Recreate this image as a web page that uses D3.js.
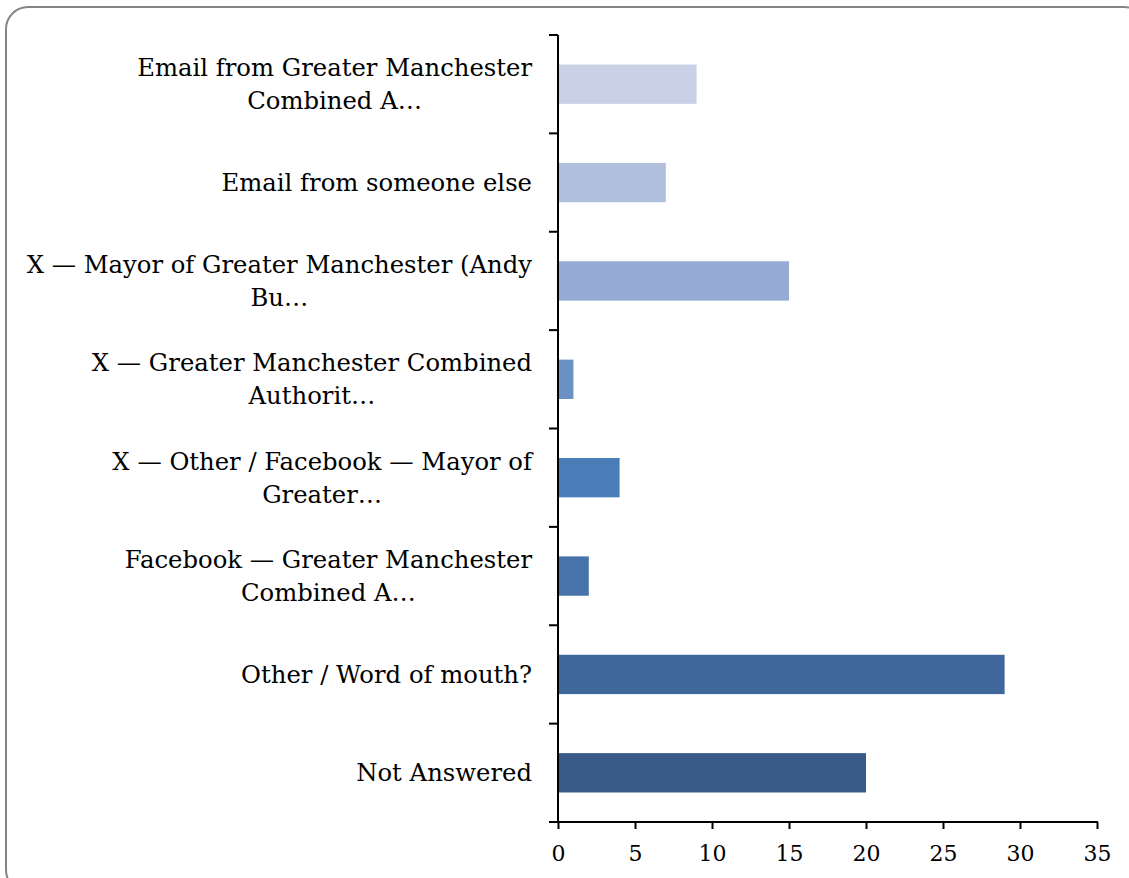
<!DOCTYPE html>
<html><head><meta charset="utf-8">
<script src="https://cdn.jsdelivr.net/npm/d3@7"></script>
<style>html,body{margin:0;padding:0;background:#fff;overflow:hidden}</style>
</head><body>
<svg id="c" width="1129" height="878"></svg>
<script>
const categories = [
  ["Email from Greater Manchester", "Combined A…"],
  ["Email from someone else"],
  ["X — Mayor of Greater Manchester (Andy", "Bu…"],
  ["X — Greater Manchester Combined", "Authorit…"],
  ["X — Other / Facebook — Mayor of", "Greater…"],
  ["Facebook — Greater Manchester", "Combined A…"],
  ["Other / Word of mouth?"],
  ["Not Answered"]
];
const values = [9, 7, 15, 1, 4, 2, 29, 20];
const colors = ["#c8d1e5","#b0c0dc","#95abd3","#6b90c4","#4a7cb8","#4573aa","#3f679b","#375a86"];
const xTicks = [0, 5, 10, 15, 20, 25, 30, 35];

const svg = d3.select("#c");
const font = "DejaVu Serif, serif";

svg.append("rect").attr("x",6).attr("y",7).attr("width",1140).attr("height",885)
  .attr("rx",22).attr("fill","none").attr("stroke","#858585").attr("stroke-width",2);

const pL = 558, pR = 1097, pT = 35, pB = 822;
const x = d3.scaleLinear().domain([0,35]).range([pL,pR]);
const y = d3.scaleBand().domain(d3.range(categories.length)).range([pT,pB]).paddingInner(0.6).paddingOuter(0.3);
const yTick = d3.scaleLinear().domain([0,categories.length]).range([pT,pB]);

svg.selectAll("rect.bar").data(values).join("rect").attr("class","bar")
  .attr("x", x(0)+1).attr("y",(d,i)=>y(i)).attr("height",y.bandwidth())
  .attr("width", d=>x(d)-x(0)-1).attr("fill",(d,i)=>colors[i]);

// y axis
svg.append("line").attr("x1",pL).attr("x2",pL).attr("y1",pT).attr("y2",pB)
  .attr("stroke","#000").attr("stroke-width",2);
svg.selectAll("line.yt").data(d3.range(categories.length+1)).join("line").attr("class","yt")
  .attr("x1",pL-9).attr("x2",pL).attr("y1",d=>yTick(d)).attr("y2",d=>yTick(d))
  .attr("stroke","#000").attr("stroke-width",2);

// x axis
const xa = svg.append("g").attr("transform",`translate(0,${pB})`)
  .call(d3.axisBottom(x).tickValues(xTicks).tickSize(7).tickPadding(16).tickSizeOuter(0));
xa.select(".domain").attr("stroke","#000").attr("stroke-width",2).attr("d",`M${pL-9},0H${pR+1}`);
xa.selectAll(".tick line").attr("stroke","#000").attr("stroke-width",2);
xa.selectAll(".tick text").attr("font-family",font).attr("font-size",22).attr("fill","#000");

// labels (multi-line blocks right-aligned, lines centred within block)
const lh = 33, labelRight = 532;
categories.forEach((lines,i)=>{
  const cy = y(i)+y.bandwidth()/2;
  const g = svg.append("g");
  const ts = lines.map((ln,j)=> g.append("text").attr("font-family",font)
      .attr("font-size",24.3).attr("fill","#000")
      .attr("y", cy + (j-(lines.length-1)/2)*lh).attr("dy","0.35em").text(ln));
  const widths = ts.map(t=>t.node().getComputedTextLength());
  const maxW = d3.max(widths);
  const cx = labelRight - maxW/2;
  ts.forEach(t=>t.attr("x",cx).attr("text-anchor","middle"));
});
</script>
</body></html>
